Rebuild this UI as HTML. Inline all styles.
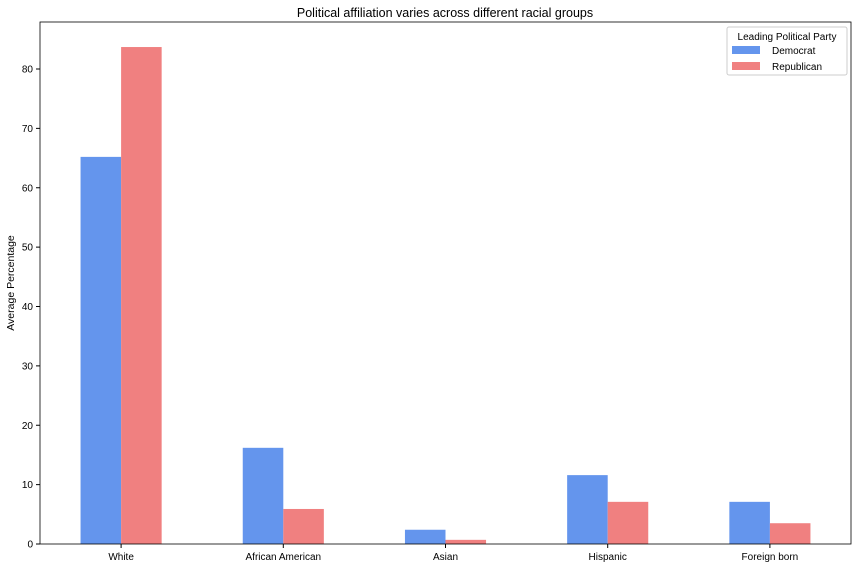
<!DOCTYPE html>
<html><head><meta charset="utf-8"><style>
body{margin:0;background:#fff;font-family:"Liberation Sans","DejaVu Sans",sans-serif;}
svg text{font-family:"Liberation Sans","DejaVu Sans",sans-serif;fill:#000;}
</style></head><body>
<svg id="chart" width="856" height="568">
<text x="445" y="17" font-size="12.5" text-anchor="middle">Political affiliation varies across different racial groups</text>
<g id="plot"></g>
<text transform="translate(14,283) rotate(-90)" font-size="10.5" text-anchor="middle">Average Percentage</text>
<g>
<rect x="727" y="27" width="120" height="48" fill="#fff" stroke="#ccc" rx="2"/>
<text x="787" y="40" font-size="10" text-anchor="middle">Leading Political Party</text>
<g><rect x="732" y="46" width="28" height="8" fill="#6495ED"/><text x="772" y="54" font-size="10">Democrat</text></g>
<g><rect x="732" y="62" width="28" height="8" fill="#F08080"/><text x="772" y="70" font-size="10">Republican</text></g>
</g>
</svg>
<script>
const categories=["White","African American","Asian","Hispanic","Foreign born"];
const democrat=[65.2,16.2,2.4,11.6,7.1];
const republican=[83.7,5.9,0.7,7.1,3.5];
const yTicks=[0,10,20,30,40,50,60,70,80];
const L=40,R=851,T=22,B=544;
const NS="http://www.w3.org/2000/svg";
const g=document.getElementById('plot');
const step=(R-L)/categories.length;
function xc(i){return L+step*(i+0.5);}
function y(v){return B-v*(B-69)/80;}
function el(t,a){const e=document.createElementNS(NS,t);for(const k in a)e.setAttribute(k,a[k]);g.appendChild(e);return e;}
const bw=step*0.25;
categories.forEach((c,i)=>{
 const d=el('rect',{x:xc(i)-bw,y:y(democrat[i]),width:bw,height:B-y(democrat[i]),fill:'#6495ED'});
 
 
 const r=el('rect',{x:xc(i),y:y(republican[i]),width:bw,height:B-y(republican[i]),fill:'#F08080'});
 
 
 el('line',{x1:xc(i),x2:xc(i),y1:B,y2:B+4,stroke:'#000'});
 const t=el('text',{x:xc(i),y:B+16,'font-size':10,'text-anchor':'middle'});t.textContent=c;
 
 
});
yTicks.forEach(v=>{
 el('line',{x1:L-4,x2:L,y1:y(v),y2:y(v),stroke:'#000'});
 const t=el('text',{x:L-7,y:y(v)+3.5,'font-size':10,'text-anchor':'end'});t.textContent=v;
 
 
});
const f=el('rect',{x:L,y:T,width:R-L,height:B-T,fill:'none',stroke:'#000','stroke-width':0.8});


</script>
</body></html>
